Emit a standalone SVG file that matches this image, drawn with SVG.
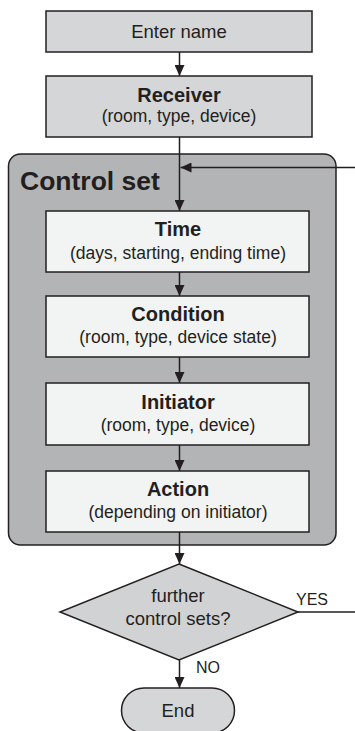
<svg xmlns="http://www.w3.org/2000/svg" width="355" height="731" viewBox="0 0 355 731">
<style>
text{font-family:"Liberation Sans",Arial,sans-serif;fill:#231f20;text-anchor:middle}
.t{font-size:20px;font-weight:bold}
.s{font-size:17.5px}
.n{font-size:18.5px}
.lbl{font-size:16px;text-anchor:start}
.box{stroke:#231f20;stroke-width:1.5}
.outer{fill:#d5d6d7}
.inner{fill:#f2f3f3}
.con{stroke:#231f20;stroke-width:1.5;fill:none}
</style>
<defs>
<marker id="ah" viewBox="0 0 11 10" refX="11" refY="5" markerWidth="11" markerHeight="10" markerUnits="userSpaceOnUse" orient="auto">
<path d="M0,0 L11,5 L0,10 z" fill="#231f20"/>
</marker>
</defs>
<rect width="355" height="731" fill="#ffffff"/>
<g id="controlset">
<rect x="8.5" y="154" width="327.5" height="391" rx="12" ry="12" fill="#b3b4b6" class="box"/>
<text x="20" y="190" style="font-size:26.5px;font-weight:bold;text-anchor:start">Control set</text>
</g>
<g id="connectors">
<line class="con" x1="179.5" y1="52" x2="179.5" y2="76" marker-end="url(#ah)"/>
<line class="con" x1="179.5" y1="137" x2="179.5" y2="211" marker-end="url(#ah)"/>
<line class="con" x1="179.5" y1="272" x2="179.5" y2="296" marker-end="url(#ah)"/>
<line class="con" x1="179.5" y1="357" x2="179.5" y2="383" marker-end="url(#ah)"/>
<line class="con" x1="179.5" y1="445" x2="179.5" y2="471" marker-end="url(#ah)"/>
<line class="con" x1="179.5" y1="532" x2="179.5" y2="564" marker-end="url(#ah)"/>
<line class="con" x1="179.5" y1="660" x2="179.5" y2="688" marker-end="url(#ah)"/>
<line class="con" x1="298" y1="612" x2="356" y2="612"/>
<line class="con" x1="356" y1="167.5" x2="180.5" y2="167.5" marker-end="url(#ah)"/>
<text class="lbl" x="296" y="605">YES</text>
<text class="lbl" x="196" y="673">NO</text>
</g>
<g id="entername">
<rect x="46" y="11" width="266" height="41" class="box outer"/>
<text class="n" x="179" y="38">Enter name</text>
</g>
<g id="receiver">
<rect x="46" y="76" width="266" height="61" class="box outer"/>
<text class="t" x="179" y="101.5">Receiver</text>
<text class="s" x="179" y="122">(room, type, device)</text>
</g>
<g id="time">
<rect x="46" y="211" width="263" height="61" class="box inner"/>
<text class="t" x="178" y="235.5">Time</text>
<text class="s" x="178" y="259">(days, starting, ending time)</text>
</g>
<g id="condition">
<rect x="46" y="296" width="263" height="61" class="box inner"/>
<text class="t" x="178" y="321">Condition</text>
<text class="s" x="178" y="343">(room, type, device state)</text>
</g>
<g id="initiator">
<rect x="46" y="383" width="263" height="62" class="box inner"/>
<text class="t" x="178" y="408.5">Initiator</text>
<text class="s" x="178" y="430.5">(room, type, device)</text>
</g>
<g id="action">
<rect x="46" y="471" width="263" height="61" class="box inner"/>
<text class="t" x="178" y="496">Action</text>
<text class="s" x="178" y="518">(depending on initiator)</text>
</g>
<g id="decision">
<polygon points="179,564 298,612 179,660 60,612" fill="#d1d2d3" class="box"/>
<text x="178" y="602" style="font-size:18.5px">further</text>
<text x="178" y="625" style="font-size:18.5px">control sets?</text>
</g>
<g id="end">
<rect x="121.5" y="688" width="113" height="45" rx="22.5" ry="22.5" fill="#d5d6d7" class="box"/>
<text class="n" x="178" y="716.5">End</text>
</g>
</svg>
